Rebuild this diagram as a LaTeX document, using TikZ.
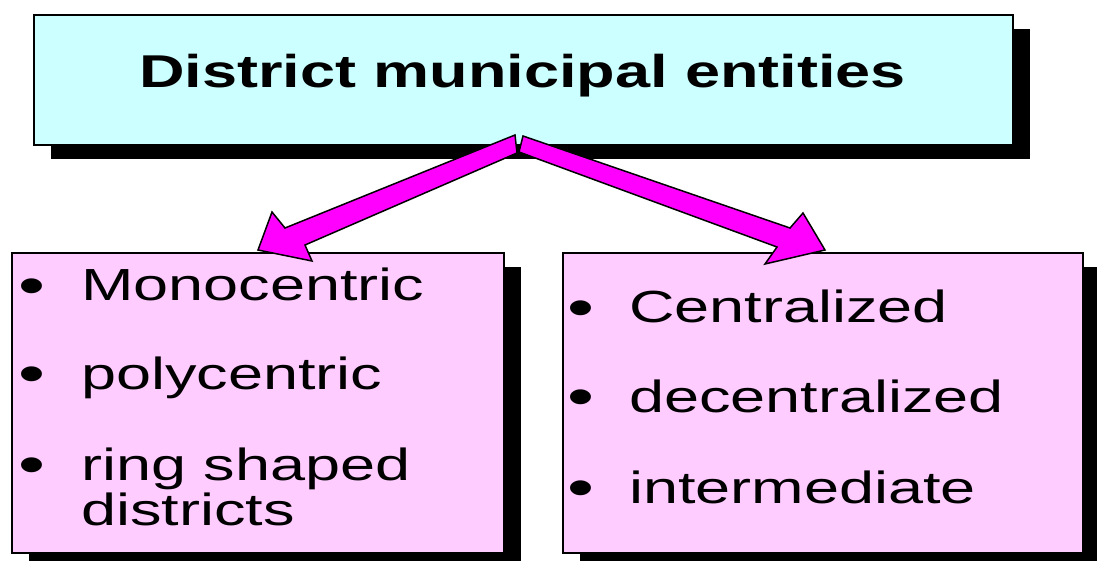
\documentclass[tikz,border=0pt]{standalone}
\usepackage{fontspec}
\setmainfont{Liberation Sans}
\newfontfamily\titlefont[FakeStretch=1.37,BoldFont={Liberation Sans Bold}]{Liberation Sans}
\newfontfamily\itemfont[FakeStretch=1.40]{Liberation Sans}
\definecolor{topfill}{HTML}{CCFFFF}
\definecolor{itemfill}{HTML}{FFCCFF}
\definecolor{arrowfill}{HTML}{FF00FF}
\tikzset{
  boxshape/.style={rectangle, draw=black, line width=2pt, anchor=north west, inner sep=0pt},
  shadowbox/.style={fill=black},
  itemtext/.style={anchor=base west, inner sep=0pt, font=\itemfont\fontsize{45}{54}\selectfont},
  bulletmark/.style={anchor=base, inner sep=0pt, yshift=-3.7pt, font=\itemfont\fontsize{55}{60}\selectfont},
  titletext/.style={anchor=base, inner sep=0pt, font=\titlefont\bfseries\fontsize{46}{55}\selectfont},
  fatarrow/.style={fill=arrowfill, draw=black, line width=1.5pt, line join=miter}
}
\begin{document}
\begin{tikzpicture}[x=1pt,y=-1pt]
\useasboundingbox (0,0) rectangle (1097,561);
% shadows
\fill[shadowbox] (51,29) rectangle (1030,159);
\fill[shadowbox] (29,267) rectangle (521,567);
\fill[shadowbox] (580,267) rectangle (1100,567);
% boxes
\node[boxshape, fill=topfill, minimum width=979pt, minimum height=130pt] (top) at (33,14) {};
\node[boxshape, fill=itemfill, minimum width=492pt, minimum height=300pt] (left) at (11,252) {};
\node[boxshape, fill=itemfill, minimum width=520pt, minimum height=300pt] (right) at (562,252) {};
% title
\node[titletext] (title) at (522.5,88) {District municipal entities};
% arrows
\draw[fatarrow] (523,136) -- (790,228) -- (803,213) -- (825,250) -- (765,264) -- (777,247) -- (519,152) -- cycle;
\draw[fatarrow] (515,135) -- (285,228) -- (272,212) -- (258,250) -- (312,261) -- (305,245) -- (517,153) -- cycle;
% left items
\node[bulletmark] (lb1) at (32,300.7) {•};
\node[itemtext] (l1) at (81,300.7) {Monocentric};
\node[bulletmark] (lb2) at (32,389) {•};
\node[itemtext] (l2) at (81,389) {polycentric};
\node[bulletmark] (lb3) at (32,480) {•};
\node[itemtext] (l3) at (81,480) {ring shaped};
\node[itemtext] (l4) at (81,525) {districts};
% right items
\node[bulletmark] (rb1) at (581,322.7) {•};
\node[itemtext] (r1) at (629,322.7) {Centralized};
\node[bulletmark] (rb2) at (581,412) {•};
\node[itemtext] (r2) at (629,412) {decentralized};
\node[bulletmark] (rb3) at (581,503) {•};
\node[itemtext] (r3) at (629,503) {intermediate};
\end{tikzpicture}
\end{document}
